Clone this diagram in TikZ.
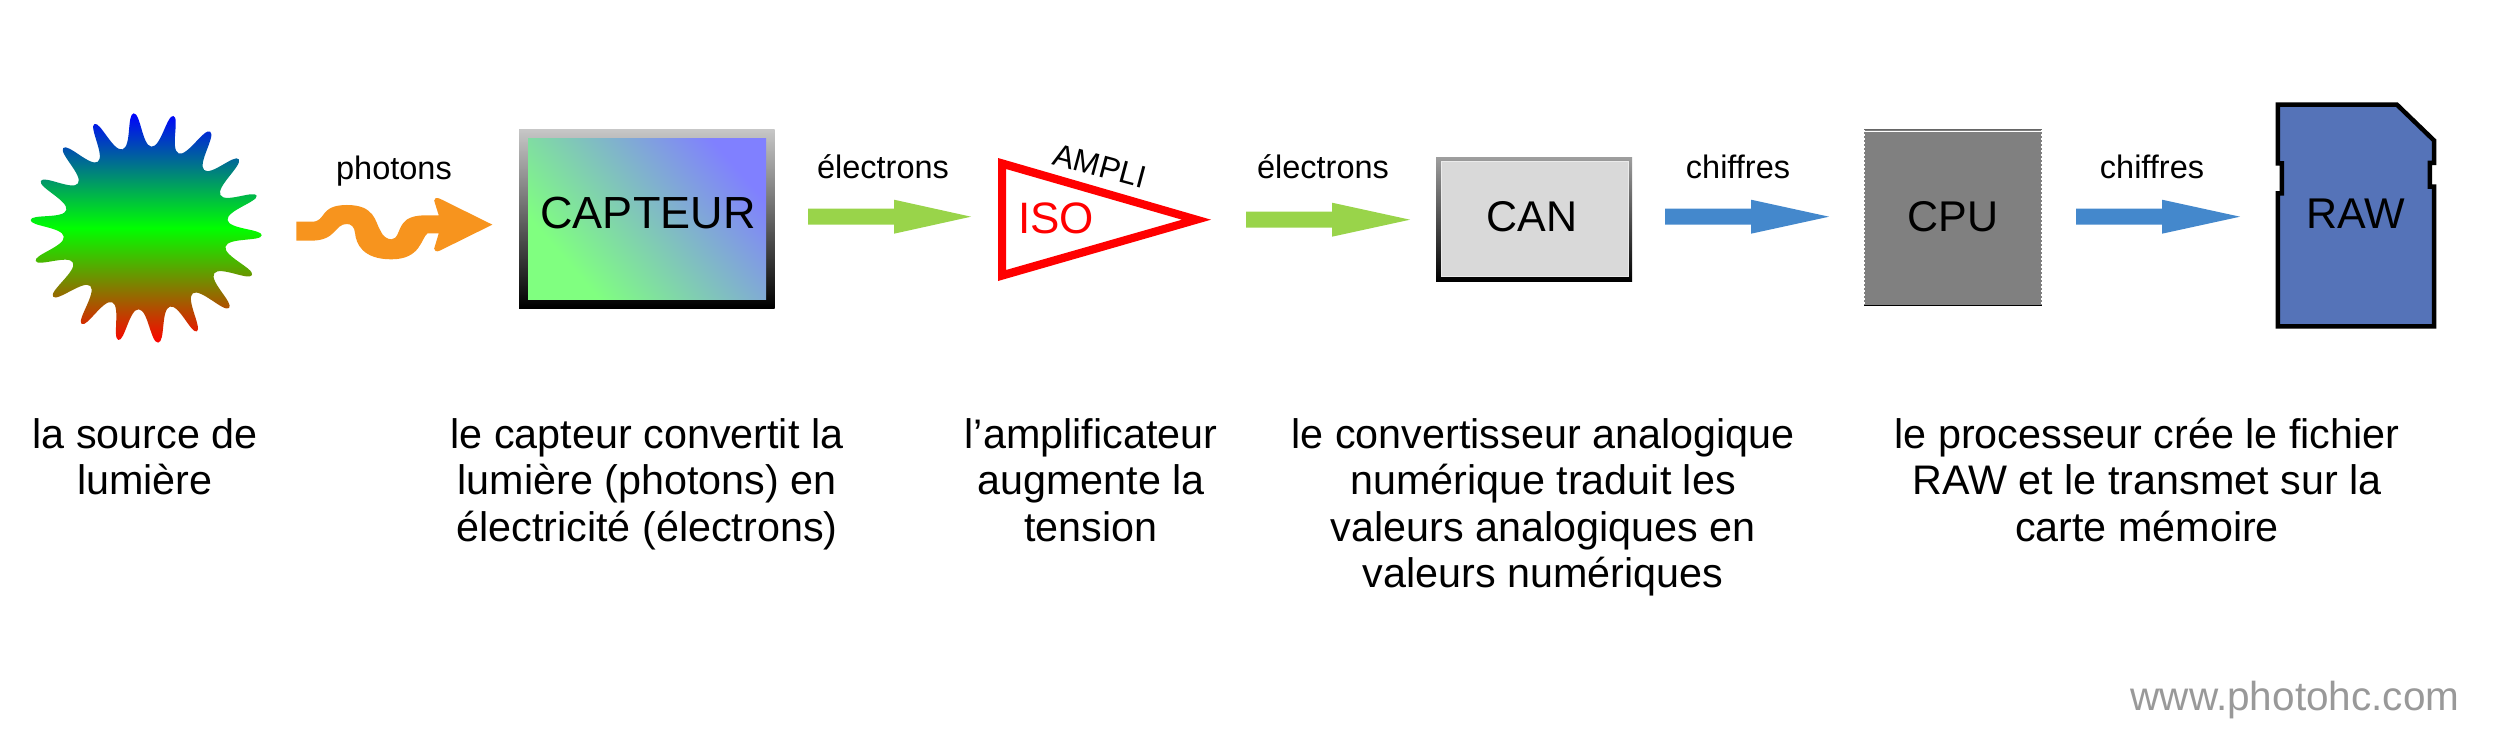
\documentclass[tikz,border=0pt]{standalone}
\usepackage{fontspec}
\setmainfont{Liberation Sans}
\usetikzlibrary{calc}
\definecolor{gArrow}{HTML}{99D44A}
\definecolor{bArrow}{HTML}{4488CC}
\definecolor{oArrow}{HTML}{F7941E}
\definecolor{cardBlue}{HTML}{5573B8}
\definecolor{sg}{HTML}{80FF80}
\definecolor{sb}{HTML}{8080FF}
\pgfdeclareverticalshading{sensorgrad}{100bp}{color(0bp)=(sg); color(28bp)=(sg); color(75bp)=(sb); color(100bp)=(sb)}
\newcommand{\fsz}[1]{\fontsize{#1}{#1}\selectfont}
\newcommand{\blockarrow}[4]{% style, start coord, head start offset, total length
  \fill[#1] (#2) ++(0,-8) -- ++(#3,0) -- ++(0,-9) -- ($(#2)+(#4,0)$) -- ($(#2)+(#3,17)$) -- ++(0,-9) -- ++(-#3,0) -- cycle;}
\tikzset{
  lbl/.style={font=\fsz{32.5},anchor=base,inner sep=0pt},
  boxlbl/.style={font=\fsz{45},inner sep=0pt,anchor=base},
  para/.style={font=\fsz{41.3},align=center,anchor=base,inner sep=0pt},
  greenA/.style={fill=gArrow},
  blueA/.style={fill=bArrow},
  zoomA/.style={x=0.5102pt,y=-0.3333pt,shift={(0pt,-80pt)}},
  zoomC/.style={x=0.5485pt,y=-0.3333pt,shift={(1640pt,-80pt)}},
}
\begin{document}
\begin{tikzpicture}[x=1pt,y=-1pt]
\useasboundingbox[fill=white] (0,0) rectangle (2500,747);
% sun
\begin{scope}[zoomA]
\shade[top color=blue,bottom color=red,middle color=green]
 plot[smooth cycle,tension=0.85] coordinates {
 (262,100)(297,200)(340,108)(350,220)(412,155)(400,270)(468,238)(432,345)(503,347)(446,420)
 (513,466)(442,500)(494,585)(420,580)(449,684)(378,640)(386,754)(333,680)(310,788)(272,688)
 (232,780)(220,667)(160,732)(177,618)(104,650)(143,548)(70,543)(125,470)(60,420)(130,390)
 (80,303)(153,310)(124,204)(192,245)(185,132)(240,208)};
% wavy arrow
\fill[oArrow] (581,425) -- (612,425) .. controls (640,425) and (625,375) .. (680,375)
 .. controls (735,375) and (735,425) .. (745,450)
 .. controls (750,470) and (760,478) .. (767,478)
 .. controls (780,478) and (780,450) .. (790,430)
 .. controls (798,412) and (815,406) .. (835,406) -- (860,406) -- (851,362)
 .. controls (850,354) and (856,352) .. (862,356) -- (965,434) -- (862,512)
 .. controls (856,516) and (850,514) .. (851,506) -- (860,460) -- (838,460)
 .. controls (825,475) and (825,538) .. (767,538)
 .. controls (710,538) and (698,490) .. (696,460)
 .. controls (695,440) and (688,432) .. (680,432)
 .. controls (655,432) and (660,482) .. (610,482) -- (581,482) -- cycle;
\end{scope}
% sensor
\shade[top color=black!22,bottom color=black] (519,129) rectangle (774.5,308);
\shade[shading=sensorgrad,shading angle=-49] (528,138) rectangle (766,299);
\node[boxlbl] (capteur) at (648,228) {CAPTEUR};
\node[lbl] (lphotons) at (394,179) {photons};
% green arrows
\coordinate (g1) at (808,216.7);
\coordinate (g2) at (1246,219.7);
\blockarrow{greenA}{g1}{86}{163}
\blockarrow{greenA}{g2}{86}{164}
\node[lbl] (le1) at (883,178) {électrons};
\node[lbl] (le2) at (1323,178) {électrons};
% amplifier
\fill[red,even odd rule] (998,158) -- (1211,219.7) -- (998,281) -- cycle (1006,169) -- (1006,270) -- (1182,219.7) -- cycle;
\node[font=\fsz{44},text=red,inner sep=0pt,anchor=base] (iso) at (1056,233) {ISO};
\node[font=\fsz{31.5},inner sep=0pt,rotate=-15] (ampli) at (1100,166) {AMPLI};
% CAN
\shade[top color=black!38,bottom color=black] (1436,157) rectangle (1632,281);
\draw[fill=black!15,draw=black!8,line width=1pt] (1441,161) rectangle (1628,276);
\node[boxlbl,font=\fsz{43}] (can) at (1532,231) {CAN};
% blue arrows
\coordinate (b1) at (1665,216.7);
\coordinate (b2) at (2076,216.7);
\blockarrow{blueA}{b1}{86}{164}
\blockarrow{blueA}{b2}{86}{164}
\node[lbl] (lc1) at (1738,178) {chiffres};
\node[lbl] (lc2) at (2152,178) {chiffres};
% CPU
\fill[black!50] (1865,130) rectangle (2041,306);
\draw[black!60,line width=1.2pt] (1864,129.5) -- (2041.5,129.5);
\draw[white,line width=1pt] (1864,131) -- (2041.5,131);
\draw[black,line width=1.5pt] (1864,305.5) -- (2041.5,305.5);
\draw[black!50,line width=2pt,dash pattern=on 2pt off 2pt] (1865,132) -- (1865,305);
\draw[black!50,line width=2pt,dash pattern=on 2pt off 2pt] (2040.5,132) -- (2040.5,305);
\node[boxlbl,font=\fsz{43}] (cpu) at (1953,231) {CPU};
% card
\begin{scope}[zoomC]
\draw[fill=cardBlue,line width=4.5pt,line join=miter] (1163,74) -- (1380,74) -- (1448,182) -- (1448,249) -- (1440,249) -- (1440,320) -- (1448,320) -- (1448,739) -- (1163,739) -- (1163,340) -- (1170,340) -- (1170,250) -- (1163,250) -- cycle;
\end{scope}
\node[boxlbl,font=\fsz{43}] (raw) at (2356,228) {RAW};
% paragraphs
\node[para] (t1a) at (145,448) {la source de};
\node[para] (t1b) at (145,494) {lumière};
\node[para] (t2a) at (647,448) {le capteur convertit la};
\node[para] (t2b) at (647,494) {lumière (photons) en};
\node[para] (t2c) at (647,541) {électricité (électrons)};
\node[para] (t3a) at (1091,448) {l’amplificateur};
\node[para] (t3b) at (1091,494) {augmente la};
\node[para] (t3c) at (1091,541) {tension};
\node[para] (t4a) at (1543,448) {le convertisseur analogique};
\node[para] (t4b) at (1543,494) {numérique traduit les};
\node[para] (t4c) at (1543,541) {valeurs analogiques en};
\node[para] (t4d) at (1543,587) {valeurs numériques};
\node[para] (t5a) at (2147,448) {le processeur crée le fichier};
\node[para] (t5b) at (2147,494) {RAW et le transmet sur la};
\node[para] (t5c) at (2147,541) {carte mémoire};
\node[font=\fsz{40.5},text=black!40,anchor=base,inner sep=0pt] (wm) at (2295,710) {www.photohc.com};
\end{tikzpicture}
\end{document}
